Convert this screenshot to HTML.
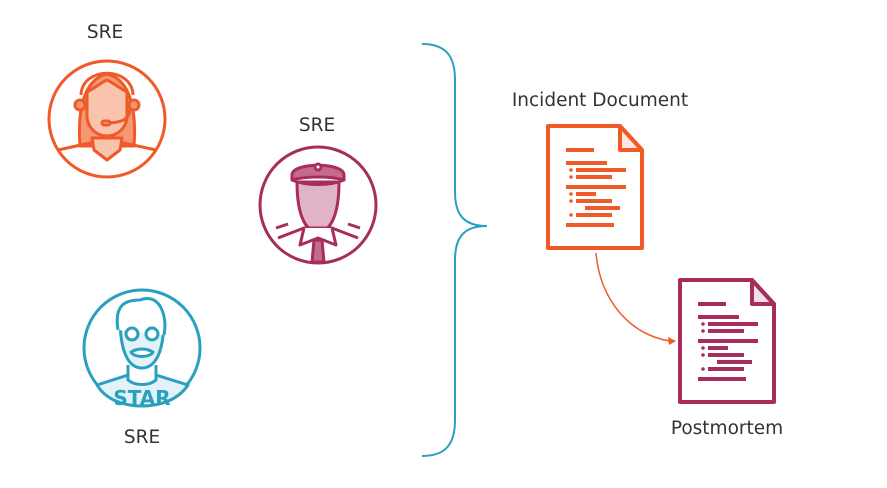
<!DOCTYPE html>
<html><head><style>
html,body{margin:0;padding:0;background:#fff;}
svg{display:block;}
text{font-family:"DejaVu Sans","Liberation Sans",sans-serif;font-size:18.5px;fill:#333;}
</style></head><body>
<svg width="887" height="488" viewBox="0 0 887 488" xmlns="http://www.w3.org/2000/svg">
<defs>
<g id="doc">
 <path d="M0,0 H72 L94,24 V122 H0 Z" fill="#fff" stroke="currentColor" stroke-width="4" stroke-linejoin="round"/>
 <path d="M72,0 V24 H94 Z" fill="currentColor" fill-opacity="0.15" stroke="currentColor" stroke-width="4" stroke-linejoin="round"/>
 <g fill="currentColor">
  <rect x="18" y="22" width="28" height="4"/>
  <rect x="18" y="35" width="41" height="4"/>
  <circle cx="23" cy="44" r="1.8"/><rect x="28" y="42" width="50" height="4"/>
  <circle cx="23" cy="51" r="1.8"/><rect x="28" y="49" width="36" height="4"/>
  <rect x="18" y="59" width="60" height="4"/>
  <circle cx="23" cy="68" r="1.8"/><rect x="28" y="66" width="20" height="4"/>
  <circle cx="23" cy="75" r="1.8"/><rect x="28" y="73" width="36" height="4"/>
  <rect x="37" y="80" width="35" height="4"/>
  <circle cx="23" cy="89" r="1.8"/><rect x="28" y="87" width="36" height="4"/>
  <rect x="18" y="97" width="48" height="4"/>
 </g>
</g>
</defs>

<text x="105" y="38" text-anchor="middle">SRE</text>
<text x="317" y="131" text-anchor="middle">SRE</text>
<text x="142" y="443" text-anchor="middle">SRE</text>
<text x="600" y="106" text-anchor="middle">Incident Document</text>
<text x="727" y="434" text-anchor="middle">Postmortem</text>

<!-- orange person -->
<g stroke="#f05a28" stroke-width="3" stroke-linejoin="round">
 <circle cx="107" cy="119" r="58" fill="#fff"/>
 <path d="M80,146 C78,120 80,80 107,74 C134,80 136,120 134,146 Z" fill="#f39774"/>
 <path d="M58,150 L90,143 L124,143 L156,150" fill="none"/>
 <path d="M92,138 L94,150 L107,160 L120,150 L122,138 Z" fill="#f9c3ae"/>
 <path d="M87,92 C95,88 102,82 107,80 C112,82 119,88 127,92 L127,118 C125,130 116,136 107,136 C98,136 89,130 87,118 Z" fill="#f9c3ae"/>
 <path d="M81,95 C82,66 132,66 133,95" fill="none"/>
 <circle cx="80" cy="105" r="5" fill="#f39774"/>
 <circle cx="134" cy="105" r="5" fill="#f39774"/>
 <path d="M130,110 C128,120 122,122 110,123" fill="none"/>
 <rect x="102" y="121" width="8" height="4" rx="2" fill="#f9c3ae"/>
</g>

<!-- maroon person -->
<g stroke="#a72d5d" stroke-width="3" stroke-linejoin="round">
 <circle cx="318" cy="205" r="58" fill="#fff"/>
 <path d="M297,182 C297,220 308,232 318,232 C328,232 339,220 339,182 Z" fill="#e0b4c6"/>
 <path d="M278,238 L304,228 L332,228 L358,238" fill="none"/>
 <path d="M304,228 L300,245 L318,238 L336,245 L332,228" fill="#fff"/>
 <path d="M314,240 L312,262 L324,262 L322,240 Z" fill="#c46a8f"/>
 <path d="M276,228 L288,224 M348,224 L360,228" fill="none"/>
 <path d="M292,175 C292,162 344,162 344,175 L344,180 C330,176 306,176 292,180 Z" fill="#c46a8f"/>
 <path d="M292,180 C306,186 330,186 344,180" fill="none"/>
 <circle cx="318" cy="167" r="3" fill="#fff"/>
</g>

<!-- teal person -->
<g stroke="#2aa0c0" stroke-width="3" stroke-linejoin="round">
 <circle cx="142" cy="348" r="58" fill="#fff"/>
 <path d="M97,385 L128,375 L156,375 L188,385 C178,400 160,406 142,406 C124,406 106,400 97,385 Z" fill="#e2f2f7"/>
 <path d="M128,365 L128,380 C135,386 149,386 156,380 L156,365" fill="#fff"/>
 <path d="M120,318 C120,355 130,368 142,368 C154,368 164,355 164,318 Z" fill="#e2f2f7"/>
 <path d="M118,330 C114,305 125,300 140,300 C150,296 158,300 162,310 C166,320 165,330 164,335" fill="#fff"/>
 <circle cx="132" cy="334" r="6" fill="#fff"/><circle cx="152" cy="334" r="6" fill="#fff"/>
 <path d="M131,352 C138,348 146,348 153,352 C150,358 134,358 131,352 Z" fill="#fff"/>
 <text x="142" y="405" text-anchor="middle" stroke="none" style="font-size:20px;font-weight:bold;fill:#2aa0c0">STAR</text>
</g>

<!-- brace -->
<path d="M422,44 C445,44 455,55 455,80 L455,192 C455,216 465,226 487,226 C465,226 455,236 455,260 L455,420 C455,445 445,456 422,456" fill="none" stroke="#2aa0c0" stroke-width="2"/>

<use href="#doc" x="548" y="126" style="color:#f05a28"/>
<use href="#doc" x="680" y="280" style="color:#a72d5d"/>

<path d="M596,253 C600,300 630,335 670,341" fill="none" stroke="#f05a28" stroke-width="1.5"/>
<path d="M676,341 L668,337 L669,345 Z" fill="#f05a28"/>
</svg>
</body></html>
